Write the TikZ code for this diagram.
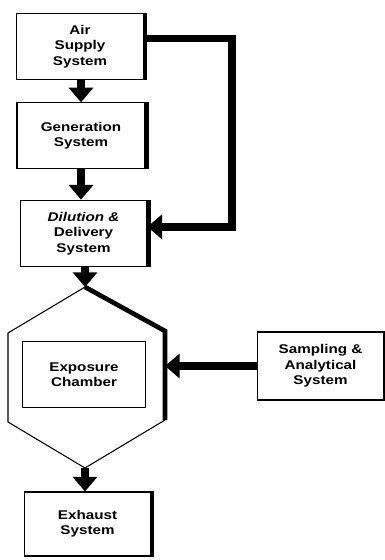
\documentclass[tikz,border=0pt]{standalone}
\usepackage{fontspec}
\setmainfont{Liberation Sans}[FakeStretch=1.2]
\usetikzlibrary{arrows.meta}

\begin{document}
\begin{tikzpicture}[x=0.75pt,y=-0.75pt,>={Triangle[length=11pt,width=18pt]},
    block/.style={draw,line width=0.8pt,align=center,inner sep=2pt,
      font=\fontsize{9.5}{11.5}\selectfont\bfseries},
    flow/.style={->,line width=5.5pt},
    rim/.style={line width=3pt}]
  \useasboundingbox (0,0) rectangle (385,560);
  \node[block,minimum width=95pt,minimum height=50pt] (air) at (80,46.5) {Air\\Supply\\System};
  \node[block,minimum width=96pt,minimum height=49pt] (gen) at (81,135.5) {Generation\\System};
  \node[block,minimum width=95pt,minimum height=50pt] (dil) at (83.5,233.5) {{\itshape Dilution \&}\\Delivery\\System};
  % chamber housing
  \coordinate (hexN) at (85,287);
  \coordinate (hexNE) at (165,331);
  \coordinate (hexSE) at (165,420);
  \coordinate (hexS) at (85,468);
  \coordinate (hexSW) at (8,422);
  \coordinate (hexNW) at (8,333);
  \draw[line width=0.8pt] (hexN) -- (hexNE) -- (hexSE) -- (hexS) -- (hexSW) -- (hexNW) -- cycle;
  \draw[rim,line width=3.5pt] (hexN) -- (hexNE) -- (hexSE);
  \node[block,minimum width=92pt,minimum height=49pt] (chamber) at (84,374.5) {Exposure\\Chamber};
  \node[block,minimum width=94pt,minimum height=51pt] (samp) at (320.5,366) {Sampling \&\\Analytical\\System};
  \node[block,minimum width=94pt,minimum height=48pt] (exh) at (87.5,524) {Exhaust\\System};
  \foreach \n in {air,gen,dil,samp,exh}
    \draw[rim] ([xshift=1.2pt]\n.north east) -- ([xshift=1.2pt]\n.south east);

  \draw[flow] (gen.north |- air.south) -- (gen.north);
  \draw[flow] (gen.south) -- (gen.south |- dil.north);
  \draw[flow] ([yshift=6pt]air.east) -- ++(88,0) |- ([yshift=5pt]dil.east);
  \draw[flow] (hexN |- dil.south) -- (hexN);
  \draw[flow] (samp.west) -- (samp.west -| hexNE);
  \draw[flow] (hexS) -- (hexS |- exh.north);
\end{tikzpicture}
\end{document}
